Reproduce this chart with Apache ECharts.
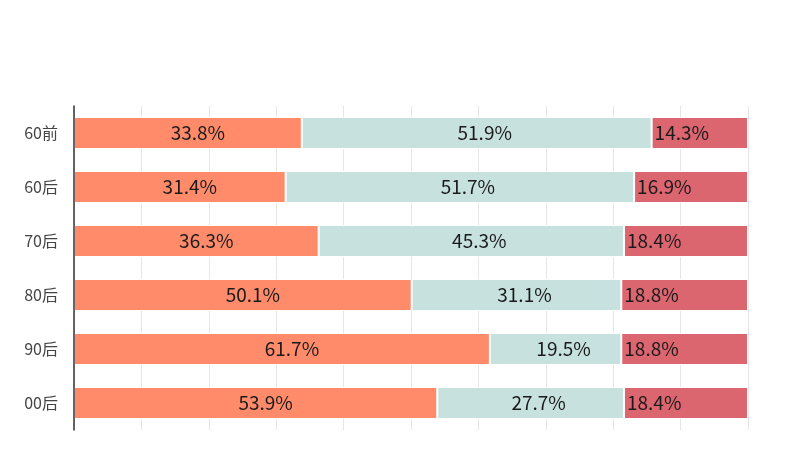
<!DOCTYPE html>
<html><head><meta charset="utf-8">
<script src="https://cdn.jsdelivr.net/npm/echarts@6/dist/echarts.min.js"></script>
<style>html,body{margin:0;padding:0;background:#fff}#c{width:800px;height:462px}</style>
</head><body><div id="c"></div>
<script>
const categories = ['60前', '60后', '70后', '80后', '90后', '00后'];
const seriesA = [33.8, 31.4, 36.3, 50.1, 61.7, 53.9];
const seriesB = [51.9, 51.7, 45.3, 31.1, 19.5, 27.7];
const seriesC = [14.3, 16.9, 18.4, 18.8, 18.8, 18.4];

const font = '"Noto Sans CJK SC", "Noto Sans", sans-serif';
const lbl = (pos, off) => ({
  show: true, position: pos, offset: off, color: '#1a1a1a', fontSize: 19,
  fontFamily: font, formatter: p => p.value.toFixed(1) + '%'
});
const chart = echarts.init(document.getElementById('c'), null, {renderer: 'canvas'});
chart.setOption({
  animation: false,
  grid: {left: 74, right: 52, top: 106, bottom: 32},
  xAxis: {
    type: 'value', min: 0, max: 100, interval: 10,
    axisLabel: {show: false}, axisLine: {show: false}, axisTick: {show: false},
    splitLine: {show: true, lineStyle: {color: '#e6e6e6', width: 1}}
  },
  yAxis: {
    type: 'category', data: categories, inverse: true, z: 5,
    axisLine: {show: true, lineStyle: {color: '#333', width: 1.5}},
    axisTick: {show: false},
    axisLabel: {color: '#444', fontSize: 16, fontFamily: font, margin: 16}
  },
  series: [
    {type: 'bar', stack: 't', data: seriesA, barWidth: 32,
     itemStyle: {color: '#FF8B6B', borderColor: '#fff', borderWidth: 1}, label: lbl('inside', [10, 0])},
    {type: 'bar', stack: 't', data: seriesB, barWidth: 32,
     itemStyle: {color: '#C7E2DE', borderColor: '#fff', borderWidth: 1}, label: lbl('inside', [8, 0])},
    {type: 'bar', stack: 't', data: seriesC, barWidth: 32,
     itemStyle: {color: '#DC6670', borderColor: '#fff', borderWidth: 1}, label: lbl('insideLeft', [-2, 0])}
  ]
});
</script></body></html>
